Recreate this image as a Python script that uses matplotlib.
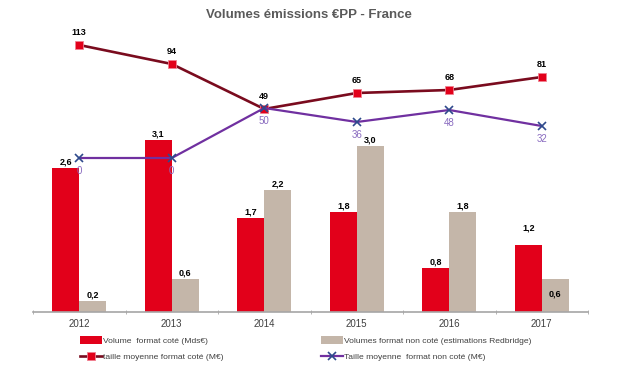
import numpy as np
import matplotlib.pyplot as plt

plt.rcParams['font.family'] = ['Liberation Sans', 'DejaVu Sans']

years = ['2012', '2013', '2014', '2015', '2016', '2017']
vol_cote = [2.6, 3.1, 1.7, 1.8, 0.8, 1.2]
vol_non_cote = [0.2, 0.6, 2.2, 3.0, 1.8, 0.6]
taille_cote = [113, 94, 49, 65, 68, 81]
taille_non_cote = [0, 0, 50, 36, 48, 32]

RED = '#E2001A'
BEIGE = '#C4B6A9'
DARKRED = '#7A0B1E'
PURPLE = '#7030A0'
GREY = '#404040'

W, H = 618, 378
fig = plt.figure(figsize=(W / 100, H / 100), dpi=100)

# axes placement in pixels: bottom axis line at y=312, top at y=30
left, right, top, bottom = 33, 588, 30, 312
ax = fig.add_axes([left / W, 1 - bottom / H, (right - left) / W, (bottom - top) / H])

x = np.arange(len(years))
bw = 0.29
px_per_bar = 55.5
ax.set_ylim(0, (bottom - top) / px_per_bar)
ax.set_xlim(-0.5, len(years) - 0.5)

b1 = ax.bar(x - bw / 2, vol_cote, bw, color=RED, label='Volume  format coté (Mds€)')
b2 = ax.bar(x + bw / 2, vol_non_cote, bw, color=BEIGE,
            label='Volumes format non coté (estimations Redbridge)')

for i, v in enumerate(vol_cote):
    off = 9 if i == 5 else 1
    ax.annotate(f'{v:.1f}'.replace('.', ','), (x[i] - bw / 2, v), xytext=(0, off),
                textcoords='offset points', ha='center', va='bottom',
                fontsize=6.5, fontweight='bold', color='black')
for i, v in enumerate(vol_non_cote):
    off = -14 if i == 5 else 1
    ax.annotate(f'{v:.1f}'.replace('.', ','), (x[i] + bw / 2, v), xytext=(0, off),
                textcoords='offset points', ha='center', va='bottom',
                fontsize=6.5, fontweight='bold', color='black')

for s in ['top', 'left', 'right']:
    ax.spines[s].set_visible(False)
ax.spines['bottom'].set_color('#A6A6A6')
ax.spines['bottom'].set_linewidth(1.2)
ax.set_yticks([])
ax.set_xticks(x)
ax.set_xticklabels(years, fontsize=7, color=GREY)
ax.tick_params(axis='x', which='major', length=0, pad=5)
ax.set_xticks(np.arange(-0.5, len(years)), minor=True)
ax.tick_params(axis='x', which='minor', length=3, color='#A6A6A6', direction='inout')

# line axis: 0 at y=158, 1 px per unit
ax2 = ax.twinx()
zero = 158
ax2.set_ylim(-(bottom - zero), zero - top)
ax2.axis('off')

l1, = ax2.plot(x, taille_cote, color=DARKRED, lw=1.9, marker='s', ms=6,
               mfc=RED, mec='#F08090', mew=0.6, label='taille moyenne format coté (M€)')
l2, = ax2.plot(x, taille_non_cote, color=PURPLE, lw=1.6, marker='x', ms=6,
               mec='#2E4A8C', mew=1.2, label='Taille moyenne  format non coté (M€)')

for i, v in enumerate(taille_cote):
    ax2.annotate(str(v), (x[i], v), xytext=(0, 6), textcoords='offset points',
                 ha='center', va='bottom', fontsize=6.5, fontweight='bold', color='black')
for i, v in enumerate(taille_non_cote):
    ax2.annotate(str(v), (x[i], v), xytext=(0, -6), textcoords='offset points',
                 ha='center', va='top', fontsize=7, color='#8A6CC0')

fig.suptitle('Volumes émissions €PP - France', x=0.5, y=1 - 9 / H, va='top',
             fontsize=9.5, fontweight='bold', color='#5A5A5A')

fig.legend([b1, l1, b2, l2], [b1.get_label(), l1.get_label(), b2.get_label(), l2.get_label()],
           ncol=2, loc='upper left', bbox_to_anchor=(80 / W, 1 - 336 / H),
           frameon=False, fontsize=6.1, labelcolor=GREY, handlelength=2.6,
           handletextpad=0.1, columnspacing=11.5, labelspacing=0.95,
           borderpad=0, borderaxespad=0, handleheight=1.0)

fig.savefig('out.png', dpi=100)
